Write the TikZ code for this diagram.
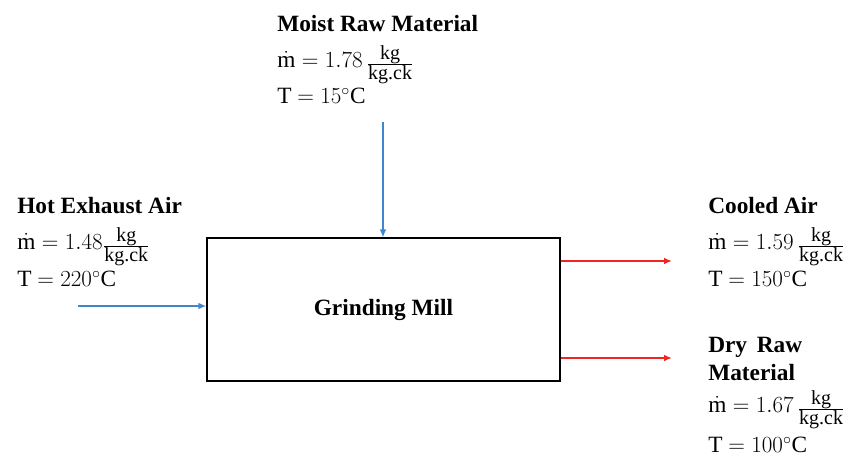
\documentclass[tikz,border=0pt]{standalone}
\usepackage{fontspec}
\setmainfont{Liberation Serif}
\usetikzlibrary{positioning,arrows.meta}
\definecolor{flowblue}{RGB}{66,133,205}
\definecolor{flowred}{RGB}{242,36,36}
\newcommand{\perck}{\raisebox{-2pt}{$\frac{\mbox{\fontsize{15}{15}\selectfont kg}}{\mbox{\fontsize{15}{15}\selectfont kg.ck}}$}}
\tikzset{
  stream/.style={align=left, anchor=north west, inner sep=0pt, font=\fontsize{17.5}{26}\selectfont},
  inflow/.style={-{Latex[length=6pt,width=5pt]}, line width=1.1pt, flowblue},
  outflow/.style={-{Latex[length=6pt,width=5pt]}, line width=1.1pt, flowred}
}
\begin{document}
\begin{tikzpicture}[x=0.75pt,y=-0.75pt]
	\useasboundingbox (0,0) rectangle (858,460);
	% Mill
	\node[draw, line width=0.9pt, minimum width=264.75pt, minimum height=107.25pt, inner sep=0pt,
	      font=\fontsize{17.5}{20}\selectfont\bfseries] (mill) at (383.5,309.5) {Grinding Mill};
	
	% Streams in
	\node[stream] (moist) at (277,15) {\textbf{Moist Raw Material}\\[1pt]
		$\dot{\mathrm{m}} = 1.78\,$\perck\\[1pt]
		T $= 15^{\circ}$C};
	\node[stream] (hot) at (17,197) {\textbf{Hot Exhaust Air}\\[1pt]
		$\dot{\mathrm{m}} = 1.48$\perck\\[2pt]
		T $= 220^{\circ}$C};
	\coordinate (topin) at (383,122);
	\coordinate (leftin) at (78,306);
	\draw[inflow] (topin) -- (topin |- mill.north);
	\draw[inflow] (leftin) -- (leftin -| mill.west);
	
	% Streams out
	\node[stream] (cooled) at (708,197) {\textbf{Cooled Air}\\[1pt]
		$\dot{\mathrm{m}} = 1.59\,$\perck\\[2pt]
		T $= 150^{\circ}$C};
	\node[stream] (dry) at (708,337) {\textbf{Dry\, Raw}\\[-5pt]
		\textbf{Material}\\[-2pt]
		$\dot{\mathrm{m}} = 1.67\,$\perck\\[4pt]
		T $= 100^{\circ}$C};
	\coordinate (airout) at (672,261);
	\coordinate (dryout) at (672,358);
	\draw[outflow] (airout -| mill.east) -- (airout);
	\draw[outflow] (dryout -| mill.east) -- (dryout);
\end{tikzpicture}
\end{document}
